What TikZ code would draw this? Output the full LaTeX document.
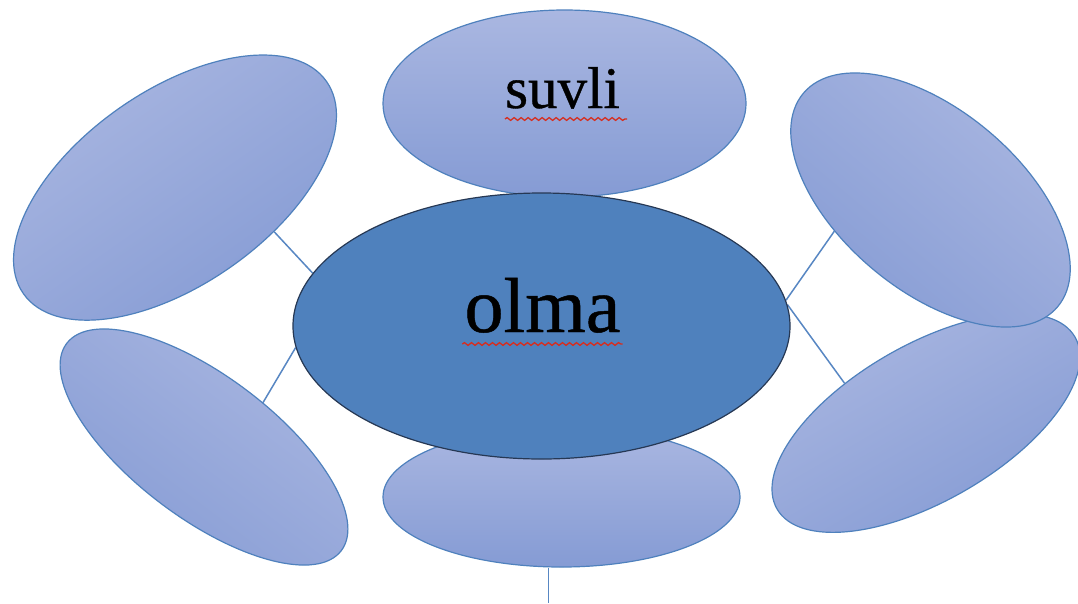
\documentclass[tikz,border=0pt]{standalone}
\usepackage{fontspec}
\setmainfont{Liberation Serif}
\newfontfamily\lblfont[FakeBold=0.6]{Liberation Serif}
\usetikzlibrary{shapes.geometric,backgrounds,decorations.pathmorphing}
\definecolor{satEdge}{RGB}{79,129,189}
\definecolor{satTop}{RGB}{170,183,225}
\definecolor{satBot}{RGB}{133,155,212}
\definecolor{mainFill}{RGB}{79,129,189}
\definecolor{mainEdge}{RGB}{38,56,84}
\definecolor{linkCol}{RGB}{88,135,195}
\definecolor{squig}{RGB}{215,45,30}
\begin{document}
\begin{tikzpicture}[x=1pt,y=-1pt,
 sat/.style={ellipse,draw=satEdge,line width=1.2pt,top color=satTop,bottom color=satBot,inner sep=0pt},
 hub/.style={ellipse,draw=mainEdge,line width=1.2pt,fill=mainFill,inner sep=0pt},
 link/.style={draw=linkCol,line width=1.5pt},
 wave/.style={draw=squig,line width=1.3pt,decorate,decoration={snake,segment length=7pt,amplitude=1.4pt}},
 lbl/.style={inner sep=0pt,anchor=base,text=black}]
\clip (0,0) rectangle (1078,603);
\node[sat,minimum width=370pt,minimum height=194pt,rotate=35,shading angle=35] (tl) at (175,187.6) {};
\node[sat,minimum width=344pt,minimum height=142pt,rotate=-37,shading angle=-37] (bl) at (204,447) {};
\node[sat,minimum width=344pt,minimum height=156pt,rotate=30,shading angle=30] (br) at (926,423) {};
\node[sat,minimum width=332pt,minimum height=180pt,rotate=-40,shading angle=-40] (tr) at (930.5,200) {};
\node[sat,minimum width=363pt,minimum height=187pt] (top) at (564.5,103.5) {};
\node[sat,minimum width=357pt,minimum height=140pt] (bot) at (561.5,497) {};
\node[hub,minimum width=497pt,minimum height=266pt] (hub) at (541.5,326) {};
\node[lbl,font=\lblfont\fontsize{59}{70}\selectfont] (suvli) at (562.5,108) {suvli};
\node[lbl,font=\lblfont\fontsize{78}{90}\selectfont] (olma) at (542.5,332) {olma};
\draw[wave] ([yshift=-11pt]suvli.base west) -- ([xshift=7pt,yshift=-11pt]suvli.base east);
\draw[wave] ([xshift=-2pt,yshift=-12pt]olma.base west) -- ([xshift=2pt,yshift=-12pt]olma.base east);
\coordinate (tail) at (548.5,603);
\begin{scope}[on background layer]
\fill[white] (0,0) rectangle (1078,603);
\draw[link] (hub.167.6) -- (tl.-59);
\draw[link] (hub.185.6) -- (bl.74);
\draw[link] (hub.6.7) -- (tr.-122.6);
\draw[link] (hub.5.6) -- (br.124.5);
\draw[link] (tail |- bot.south) -- (tail);
\end{scope}
\end{tikzpicture}
\end{document}
